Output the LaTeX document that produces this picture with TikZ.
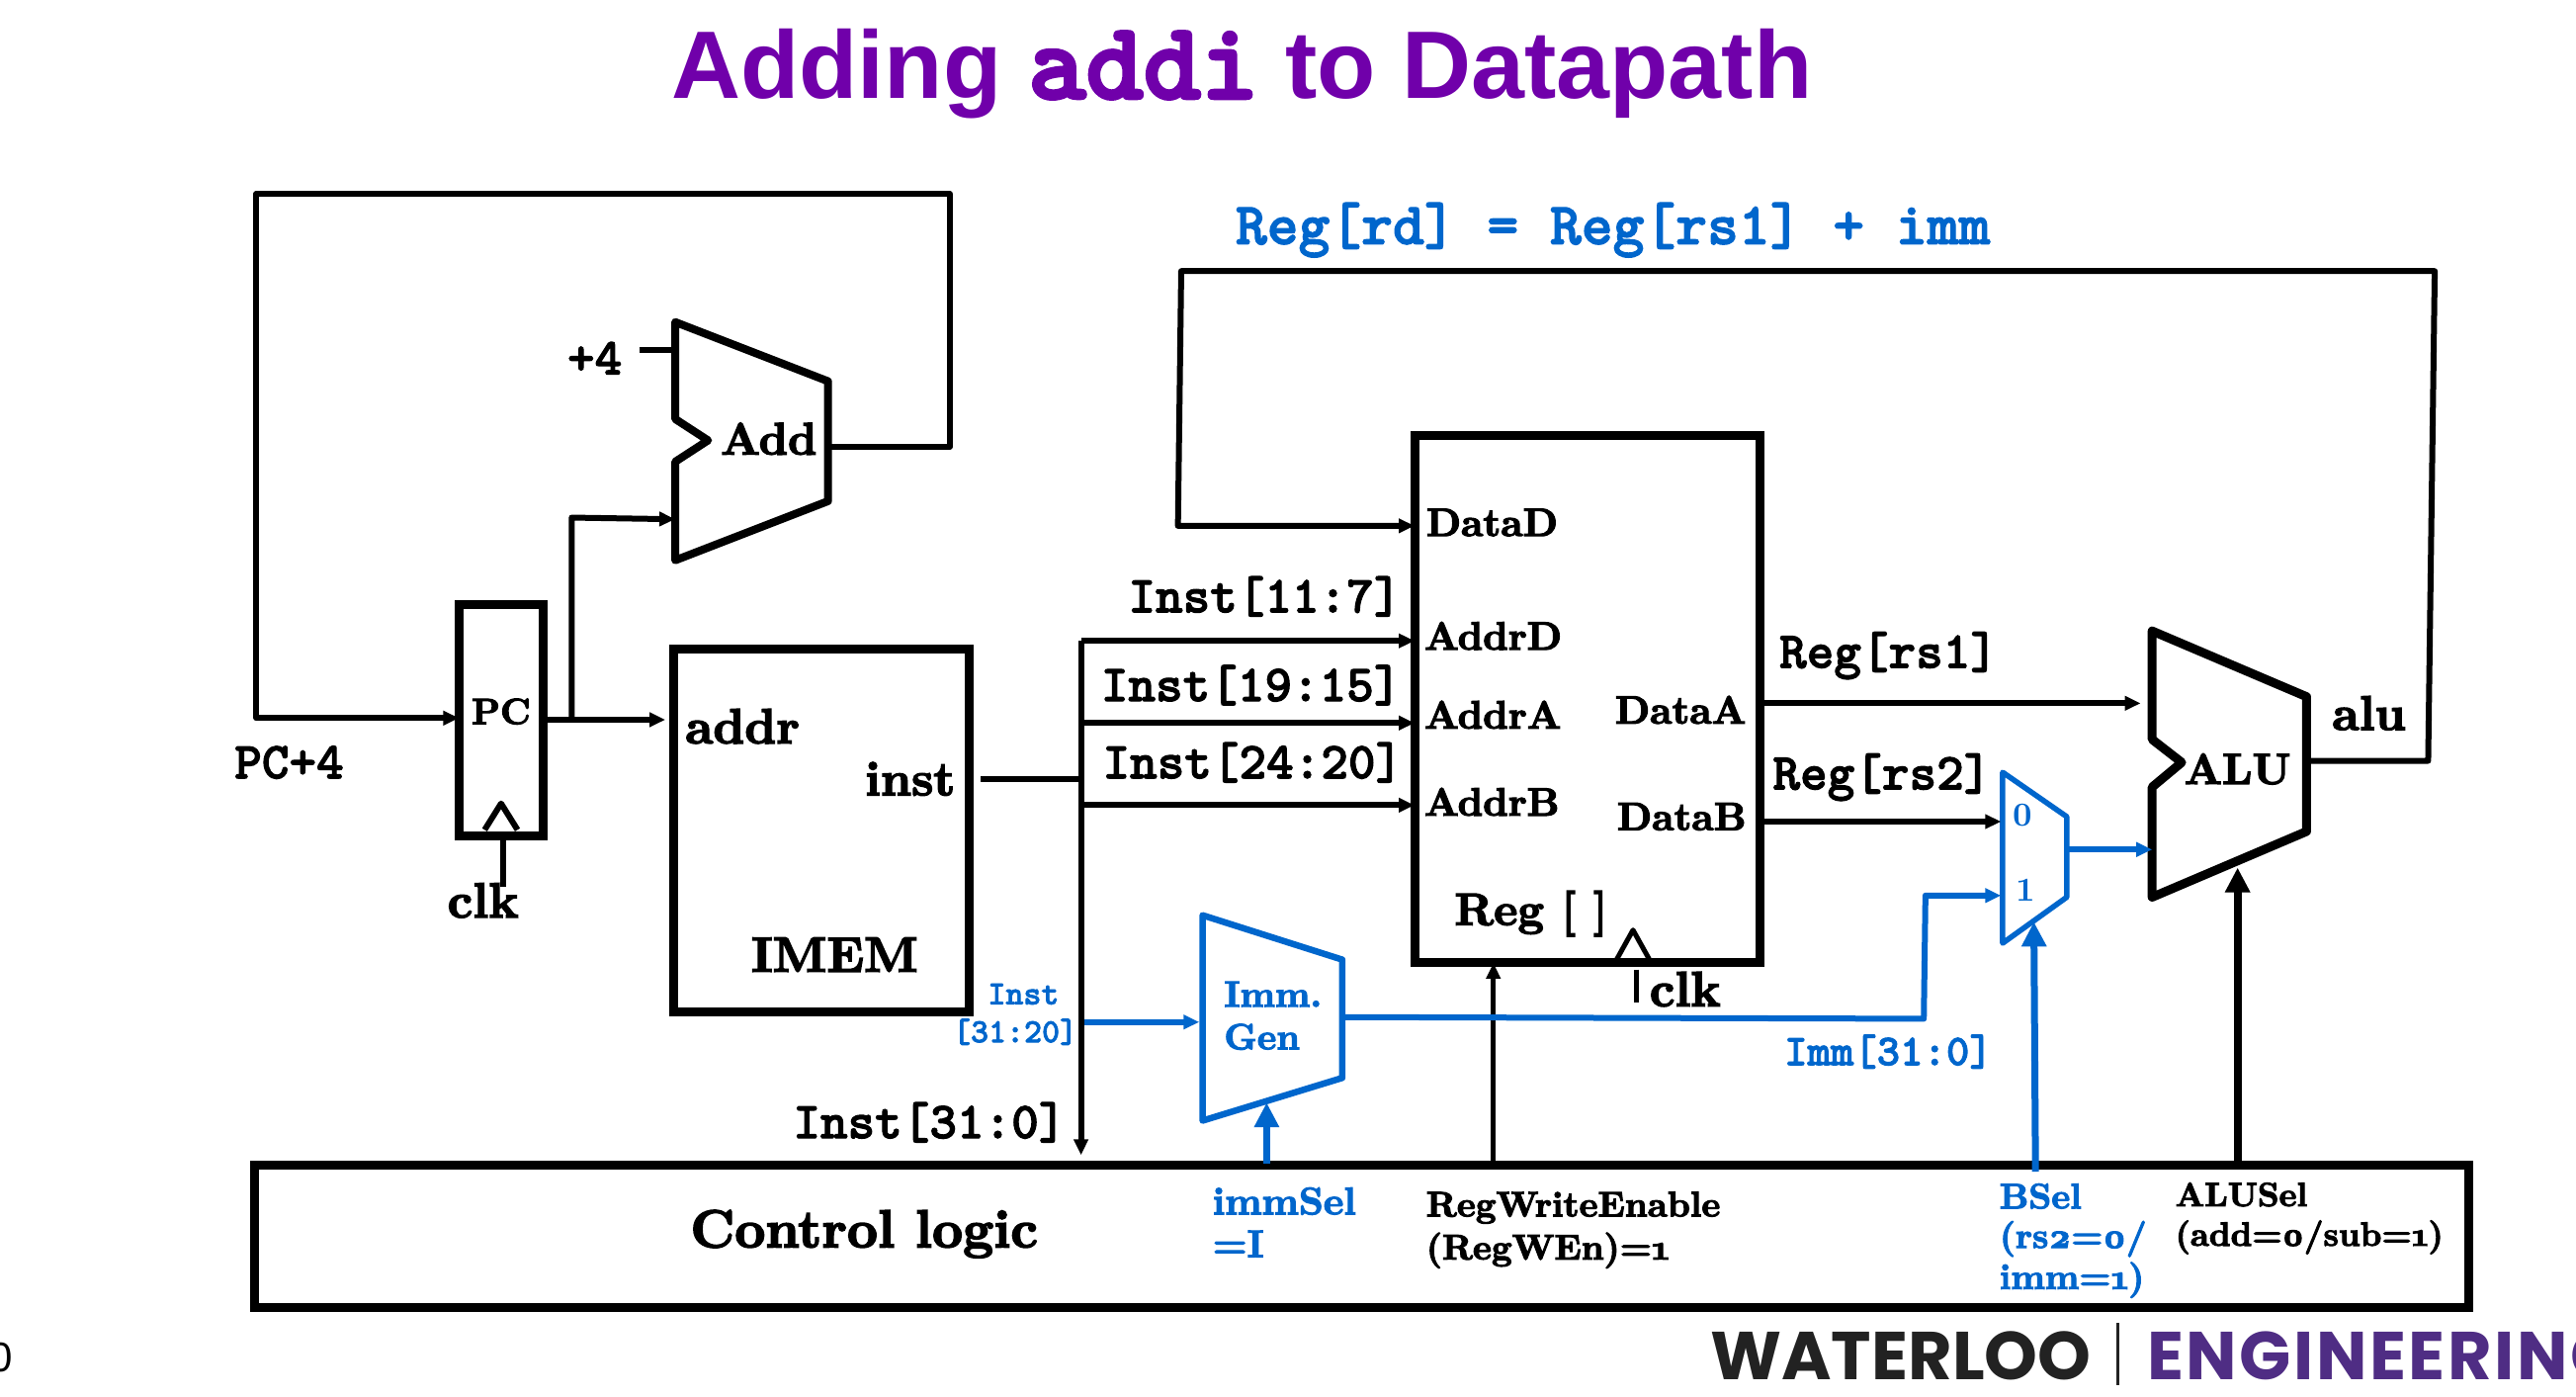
\documentclass[tikz,border=0pt]{standalone}
\usepackage{fontspec}
\usetikzlibrary{positioning, arrows.meta}
\newfontfamily\titlefont{Liberation Sans}
\newfontfamily\codefont{lmmonolt10-bold}[Extension=.otf,Scale=1.143,FakeBold=2]
\newfontfamily\titlecode{lmmonolt10-bold}[Extension=.otf,Scale=1.143,FakeBold=3]
\newfontfamily\logofont{Poppins}
\newfontfamily\logowide{Poppins}[LetterSpace=3.6]
\newfontfamily\labelfont{lmroman10-bold}[Extension=.otf,Numbers=OldStyle,FakeBold=3]
\newfontfamily\muxfont{lmroman10-bold}[Extension=.otf]
\definecolor{ctrlblue}{HTML}{0066CC}
\definecolor{titlepurple}{HTML}{7000AA}
\definecolor{logopurple}{HTML}{4F2D84}
\definecolor{logodark}{HTML}{222222}
\tikzset{
  wire/.style={draw, line width=6pt, line join=round},
  fatwire/.style={draw, line width=8pt, line join=round, >={Stealth[inset=0pt,length=25pt,width=24pt]}},
  bluewire/.style={wire, ctrlblue, line width=6pt},
  blockbox/.style={draw, line width=9pt, outer sep=0pt, inner sep=0pt},
  alushape/.style={draw, line width=9pt, line join=round},
  lab/.style={inner sep=0pt, font=\labelfont\fontsize{#1}{#1}\selectfont},
  lab/.default=46,
  code/.style={inner sep=0pt, font=\codefont\fontsize{#1}{#1}\selectfont},
  code/.default=46,
}
\begin{document}
\begin{tikzpicture}[x=1.662pt,y=-1.662pt,->,>={Stealth[inset=0pt,length=16pt,width=14pt]}]
  \useasboundingbox (0,0) rectangle (1568,849.6);
  \node[inner sep=0pt,text=titlepurple,font=\titlefont\bfseries\fontsize{97}{97}\selectfont] (title) at (756,45) {Adding {\titlecode\mdseries addi} to Datapath};

  % blocks
  \node[blockbox,minimum width=85pt,minimum height=234pt] (pc) at (305,438.5) {};
  \node[blockbox,minimum width=299pt,minimum height=367pt] (imem) at (500,505.5) {};
  \node[blockbox,minimum width=349pt,minimum height=533.5pt] (reg) at (966,425.5) {};
  \node[blockbox,minimum width=2240pt,minimum height=144.6pt] (ctrl) at (829,752.5) {};
  \draw[-,alushape,line width=8pt] (411,196) coordinate (addTop) -- (504,232) -- (504,305) -- (411,341) -- (411,281) -- (431,268) -- (411,255) -- cycle;
  \draw[-,alushape] (1310,384) -- (1404,424) -- (1404,506) -- (1310,546) -- (1310,479) -- (1328,464) -- (1310,450) -- cycle;
  \draw[-,alushape,ctrlblue,line width=6.5pt] (732,557) -- (817,584) -- (817,656) -- (732,682) -- cycle;
  \draw[-,alushape,ctrlblue,line width=5.5pt] (1219,470) -- (1258,497) -- (1258,546) -- (1219,574) -- cycle;
  % clock triangles
  \draw[-,line width=6pt,line join=round] (295,505) -- (305,489) -- (315,505);
  \draw[-,line width=5pt,line join=round] (984,584) -- (994,566) -- (1004,584);

  % labels
  \node[lab=37] (pcT) at (305,433) {PC};
  \node[lab=46] (addT) at (468,267) {Add};
  \node[code] (plusfour) at (362,218) {+4};
  \node[code] (pcplus) at (176,464) {PC+4};
  \node[lab=50] (clkA) at (294,548) {clk};
  \node[lab=50] (addrT) at (452,442) {addr};
  \node[lab=49] (instT) at (554,474) {inst};
  \node[lab=50] (imemT) at (508,581) {IMEM};
  \node[code,anchor=east] (inA) at (853,363) {Inst[11:7]};
  \node[code,anchor=east] (inB) at (853,417) {Inst[19:15]};
  \node[code,anchor=east] (inC) at (854,464) {Inst[24:20]};
  \node[code,anchor=east] (inD) at (649,683) {Inst[31:0]};
  \node[code=30,text=ctrlblue] (inE) at (623,605) {Inst};
  \node[code=30,text=ctrlblue,anchor=east] (inF) at (656,628) {[31:20]};
  \node[lab=37,text=ctrlblue,anchor=west] (immT) at (745,605) {Imm.};
  \node[lab=37,text=ctrlblue,below=17pt of immT.south west,anchor=north west] (genT) {Gen};
  \node[lab=40,anchor=west] (dataD) at (868,318) {DataD};
  \node[lab=40,anchor=west] (addrD) at (867,387) {AddrD};
  \node[lab=40,anchor=west] (addrA) at (867,435) {AddrA};
  \node[lab=40,anchor=west] (addrB) at (867,488) {AddrB};
  \node[lab=40,anchor=east] (dataA) at (1063,432) {DataA};
  \node[lab=40,anchor=east] (dataB) at (1063,497) {DataB};
  \node[lab=46] (regT) at (932,556) {Reg [ ]};
  \node[lab=50,anchor=west] (clkB) at (1004,602) {clk};
  \node[code=53,text=ctrlblue,anchor=west] (eqn) at (752,140) {Reg[rd] = Reg[rs1] + imm};
  \node[code,anchor=west] (rsA) at (1083,399) {Reg[rs1]};
  \node[code,anchor=west] (rsB) at (1079,473) {Reg[rs2]};
  \node[code=39,text=ctrlblue,anchor=west] (immW) at (1086,640) {Imm[31:0]};
  \node[inner sep=0pt,text=ctrlblue,font=\muxfont\fontsize{34}{34}\selectfont] (zeroT) at (1231,496) {0};
  \node[inner sep=0pt,text=ctrlblue,font=\muxfont\fontsize{34}{34}\selectfont] (oneT) at (1233,542) {1};
  \node[lab=44] (aluT) at (1362,468) {ALU};
  \node[lab=49] (aluO) at (1442,434) {alu};
  \node[lab=54] (ctrlT) at (526,751) {Control logic};
  \node[lab=39,text=ctrlblue,anchor=west] (immsel) at (738,731) {immSel};
  \node[lab=39,text=ctrlblue,anchor=west] (immselB) at (738,757) {=I};
  \node[lab=36,anchor=west] (rwe) at (868,735) {RegWriteEnable};
  \node[lab=36,anchor=west] (rweB) at (868,761) {(RegWEn)=1};
  \node[lab=36,text=ctrlblue,anchor=west] (bsel) at (1217,728) {BSel};
  \node[lab=36,text=ctrlblue,anchor=west] (bselB) at (1217,754) {(rs2=0/};
  \node[lab=36,text=ctrlblue,anchor=west] (bselC) at (1217,779) {imm=1)};
  \node[lab=34,anchor=west] (alusel) at (1324,727) {ALUSel};
  \node[lab=34,anchor=west] (aluselB) at (1324,753) {(add=0/sub=1)};
  \node[inner sep=0pt,anchor=east,font=\titlefont\fontsize{42}{42}\selectfont] (pageno) at (8,826) {0};
  \node[inner sep=0pt,anchor=west,text=logodark,font=\logofont\bfseries\fontsize{68.5}{68.5}\selectfont] (wloo) at (1041,825) {WATERLOO};
  \node[inner sep=0pt,anchor=west,text=logopurple,font=\logowide\bfseries\fontsize{68.5}{68.5}\selectfont] (engr) at (1307,825) {ENGINEERING};
  \draw[-,line width=2.5pt,logodark] (1289,805) -- (1289,843);

  % ports
  \coordinate (pcIn) at (pc.west |- 0,437);
  \coordinate (pcOut) at (332,438);
  \coordinate (pcTap) at (348,438);
  \coordinate (addIn) at (411,316);
  \coordinate (addOut) at (505,272);
  \coordinate (imemIn) at (405,438);
  \coordinate (imemOut) at (597,474);
  \coordinate (busTop) at (658,390);
  \coordinate (busMid) at (658,440);
  \coordinate (busLow) at (658,490);
  \coordinate (busJoin) at (658,474);
  \coordinate (busEnd) at (658,703);
  \coordinate (immTap) at (660,622);
  \coordinate (immIn) at (730,622);
  \coordinate (immOut) at (818,619);
  \coordinate (muxA) at (1218,500);
  \coordinate (muxB) at (1218,545);
  \coordinate (muxOut) at (1258,517);
  \coordinate (aluB) at (1310,517);
  \coordinate (aluA) at (1303,428);
  \coordinate (aluOut) at (1405,463);

  % black wires
  \draw[wire] (addOut) -- (578,272) -- (578,118) -- (156,118) -- (156,437) -- (pcIn);
  \draw[wire] (pcOut) -- (imemIn);
  \draw[wire] (pcTap) -- (348,315) -- (addIn);
  \draw[wire,-] (389,213) -- (411,213);
  \draw[wire,-] (imemOut) -- (busJoin);
  \draw[wire] (busTop) -- (busEnd);
  \draw[wire] (busTop) -- (reg.west |- busTop);
  \draw[wire] (busMid) -- (reg.west |- busMid);
  \draw[wire] (busLow) -- (reg.west |- busLow);
  \draw[wire] (aluOut) -- (1478,463) -- (1482,165) -- (719,165) -- (717,320) -- (reg.west |- 0,320);
  \draw[wire] (1072,428) -- (aluA);
  \draw[wire] (1072,500) -- (muxA);
  \draw[wire,-] (306,509) -- (306,540);
  \draw[wire,-,line width=5pt] (996,590) -- (996,610);
  \draw[wire,line width=5pt] (909,707) -- (reg.south -| 909,0);
  \draw[fatwire] (1362,708) -- (1362,528);

  % control wires
  \draw[bluewire] (immTap) -- (immIn);
  \draw[bluewire] (immOut) -- (1171,620) -- (1172,545) -- (muxB);
  \draw[bluewire] (muxOut) -- (aluB);
  \draw[fatwire,ctrlblue,line width=7pt] (771,708) -- (771,671);
  \draw[fatwire,ctrlblue,line width=7pt] (1239,713) -- (1238,561);
\end{tikzpicture}
\end{document}
